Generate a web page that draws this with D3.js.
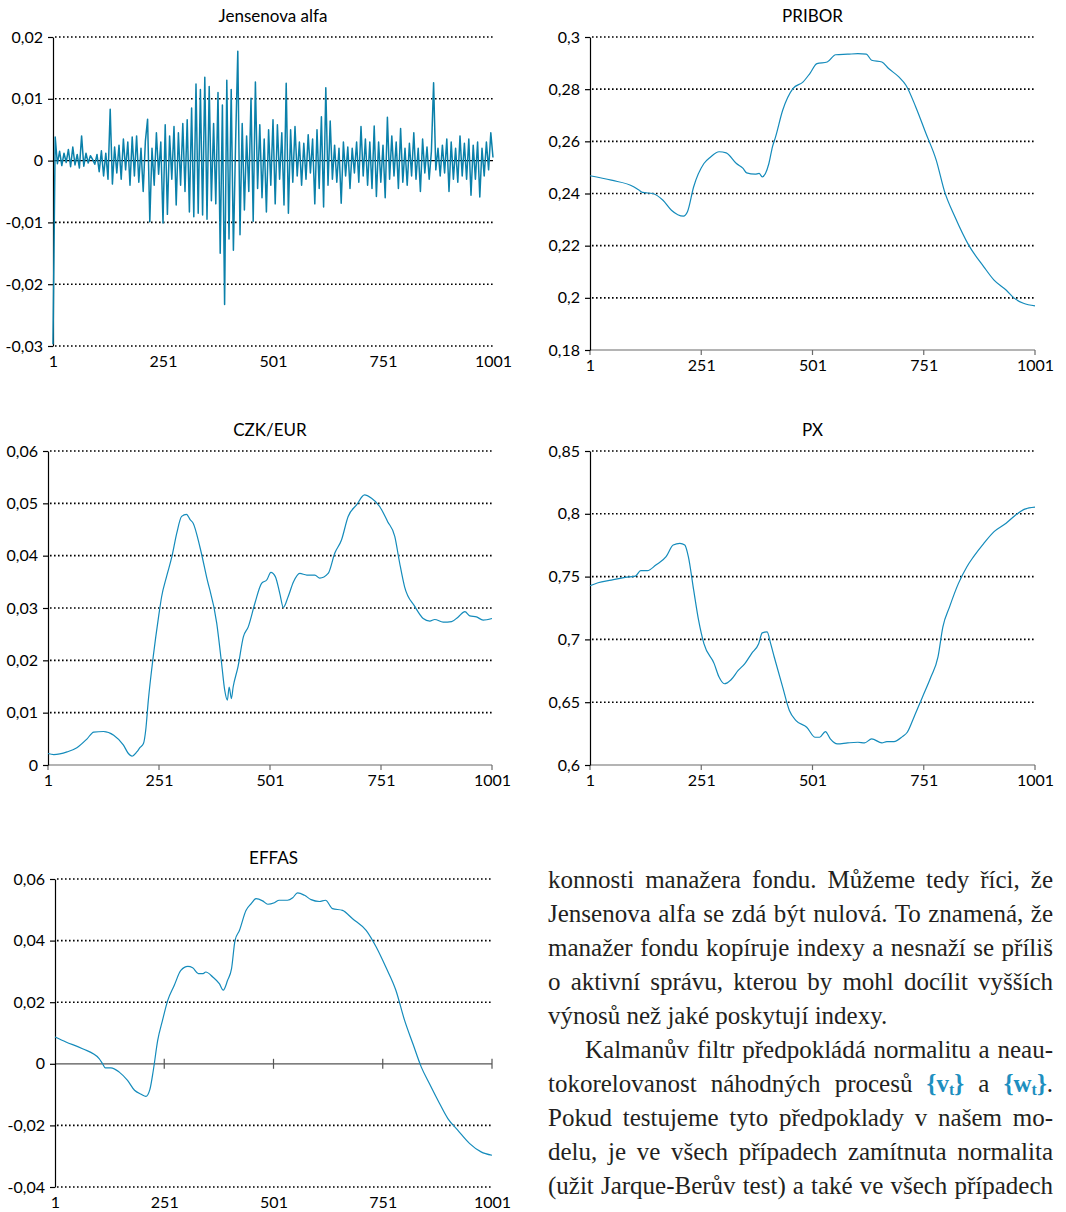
<!DOCTYPE html>
<html>
<head>
<meta charset="utf-8">
<script src="https://cdn.jsdelivr.net/npm/d3@7"></script>
<style>
  body { margin:0; background:#fff; }
  #page { position:relative; width:1066px; height:1212px; overflow:hidden; }
  #page svg { position:absolute; left:0; top:0; }
  #para { position:absolute; left:548px; top:863px; width:505px;
          font-family:"Liberation Serif", serif; font-size:25px; line-height:34px; color:#231f20; }
  #para div { white-space:nowrap; text-align:justify; text-align-last:justify; height:34px; }
  #para div.last { text-align-last:left; }
  #para div.indent { text-indent:37px; }
  #para .m { color:#1e8fc0; font-weight:bold; }
  #para .m sub { font-size:16px; line-height:0; vertical-align:-0.2em; }
</style>
</head>
<body>
<div id="page">
  <svg id="chart" width="1066" height="1212"></svg>
  <div id="para"></div>
</div>
<script>
// --- data ---
const xTicks = [1, 251, 501, 751, 1001];

const jensenTicks = [0.02, 0.01, 0, -0.01, -0.02, -0.03];
const priborTicks = [0.3, 0.28, 0.26, 0.24, 0.22, 0.2, 0.18];
const czkTicks = [0.06, 0.05, 0.04, 0.03, 0.02, 0.01, 0];
const pxTicks = [0.85, 0.8, 0.75, 0.7, 0.65, 0.6];
const effasTicks = [0.06, 0.04, 0.02, 0, -0.02, -0.04];

// Jensenova alfa, read every 5th observation (1, 6, 11, ... 1001)
const jensenStep = 5;
const jensenValues = [
  -0.0297, 0.0038, -0.0005, 0.0015, -0.0008, 0.0012, -0.0003, 0.0018, -0.0010, 0.0022,
  -0.0007, 0.0010, -0.0012, 0.0040, -0.0009, 0.0012, -0.0004, 0.0008, 0.0002, -0.0006,
  0.0010, -0.0018, 0.0016, -0.0025, 0.0012, -0.0030, 0.0083, -0.0038, 0.0022, -0.0020,
  0.0025, -0.0030, 0.0035, -0.0015, 0.0030, -0.0040, 0.0038, -0.0025, 0.0040, -0.0035,
  0.0020, -0.0050, 0.0032, 0.0067, -0.0099, 0.0020, -0.0040, 0.0045, -0.0022, 0.0030,
  -0.0101, 0.0058, -0.0087, 0.0040, -0.0030, 0.0055, -0.0072, 0.0045, -0.0040, 0.0060,
  -0.0050, 0.0066, -0.0083, 0.0085, -0.0091, 0.0124, -0.0085, 0.0115, -0.0088, 0.0135,
  -0.0095, 0.0120, -0.0065, 0.0060, -0.0070, 0.0110, -0.0150, 0.0090, -0.0233, 0.0130,
  -0.0127, 0.0115, -0.0145, 0.0030, 0.0177, -0.0120, 0.0060, -0.0080, 0.0040, -0.0050,
  0.0101, -0.0098, 0.0127, -0.0045, 0.0058, -0.0060, 0.0035, -0.0083, 0.0050, -0.0040,
  0.0066, -0.0070, 0.0058, -0.0030, 0.0045, -0.0072, 0.0125, -0.0085, 0.0050, -0.0035,
  0.0055, -0.0025, 0.0030, -0.0040, 0.0028, -0.0030, 0.0042, -0.0020, 0.0035, -0.0070,
  0.0050, -0.0045, 0.0071, -0.0075, 0.0118, -0.0040, 0.0064, -0.0030, 0.0025, -0.0035,
  0.0020, -0.0069, 0.0030, -0.0025, 0.0022, -0.0045, 0.0020, -0.0020, 0.0030, -0.0035,
  0.0055, -0.0025, 0.0035, -0.0040, 0.0030, -0.0045, 0.0056, -0.0058, 0.0030, -0.0035,
  0.0025, -0.0060, 0.0070, -0.0030, 0.0040, -0.0025, 0.0030, -0.0045, 0.0052, -0.0035,
  0.0020, -0.0040, 0.0028, -0.0025, 0.0045, -0.0030, 0.0020, -0.0050, 0.0035, -0.0020,
  0.0022, -0.0030, 0.0015, 0.0126, -0.0015, 0.0020, -0.0025, 0.0025, -0.0020, 0.0035,
  -0.0050, 0.0030, -0.0030, 0.0020, -0.0035, 0.0040, -0.0025, 0.0028, -0.0030, 0.0035,
  -0.0056, 0.0025, -0.0030, 0.0030, -0.0059, 0.0020, -0.0025, 0.0030, -0.0015, 0.0045,
  0.0005
];

const priborIdx = [1, 49, 99, 111, 119, 142, 165, 184, 211, 220, 234, 257, 272, 291, 307, 330, 345, 353, 372, 381,
  388, 403, 411, 418, 434, 457, 480, 495, 511, 534, 553, 580, 603, 622, 634, 657, 672, 695, 711, 733,
  756, 779, 798, 821, 852, 886, 909, 936, 955, 975, 1001];
const priborValues = [0.2468, 0.2451, 0.2426, 0.2413, 0.2404, 0.2400, 0.2374, 0.2336, 0.2313, 0.2330, 0.2426, 0.2515, 0.2540, 0.2560, 0.2556, 0.2515, 0.2496, 0.2479, 0.2474, 0.2477,
  0.2464, 0.2515, 0.2579, 0.2617, 0.2719, 0.2802, 0.2828, 0.2860, 0.2898, 0.2904, 0.2932, 0.2934, 0.2936, 0.2934, 0.2911, 0.2904, 0.2879, 0.2847, 0.2815, 0.2732,
  0.2630, 0.2528, 0.2406, 0.2311, 0.2202, 0.2119, 0.2068, 0.2030, 0.1998, 0.1979, 0.1969];

const czkIdx = [1, 14, 44, 66, 89, 104, 126, 149, 171, 182, 190, 201, 208, 216, 221, 227, 238, 250, 257, 268,
  280, 291, 302, 313, 321, 328, 343, 358, 381, 392, 399, 405, 409, 414, 418, 429, 441, 452, 467, 482,
  494, 503, 513, 523, 531, 542, 554, 568, 584, 602, 613, 632, 647, 662, 677, 696, 714, 729, 748, 766,
  782, 793, 804, 827, 846, 861, 872, 891, 910, 925, 940, 951, 966, 981, 1001];
const czkValues = [0.0022, 0.0020, 0.0025, 0.0033, 0.0050, 0.0063, 0.0064, 0.0057, 0.0038, 0.0022, 0.0017, 0.0025, 0.0033, 0.0041, 0.0066, 0.0124, 0.0207, 0.0283, 0.0322, 0.0360,
  0.0398, 0.0443, 0.0475, 0.0479, 0.0469, 0.0462, 0.0417, 0.0360, 0.0271, 0.0194, 0.0143, 0.0124, 0.0149, 0.0127, 0.0149, 0.0188, 0.0245, 0.0264, 0.0309, 0.0347,
  0.0354, 0.0368, 0.0360, 0.0328, 0.0301, 0.0322, 0.0350, 0.0366, 0.0363, 0.0363, 0.0357, 0.0366, 0.0405, 0.0430, 0.0475, 0.0497, 0.0516, 0.0510, 0.0494, 0.0465,
  0.0437, 0.0386, 0.0341, 0.0303, 0.0280, 0.0275, 0.0278, 0.0273, 0.0274, 0.0283, 0.0293, 0.0285, 0.0283, 0.0277, 0.0280];

const pxIdx = [1, 19, 49, 80, 103, 115, 130, 149, 172, 188, 203, 214, 222, 234, 245, 257, 280, 291, 303, 318,
  334, 349, 364, 380, 388, 399, 407, 415, 434, 449, 464, 488, 507, 517, 530, 541, 557, 580, 603, 618,
  634, 657, 668, 684, 703, 714, 729, 748, 767, 783, 794, 809, 829, 848, 863, 886, 909, 936, 955, 978, 1001];
const pxValues = [0.7427, 0.7451, 0.7472, 0.7494, 0.7504, 0.7547, 0.7547, 0.7592, 0.7659, 0.7752, 0.7765, 0.7752, 0.7659, 0.7392, 0.7153, 0.6966, 0.6807, 0.6700, 0.6647, 0.6679,
  0.6753, 0.6807, 0.6887, 0.6966, 0.7052, 0.7060, 0.6966, 0.6860, 0.6620, 0.6434, 0.6354, 0.6301, 0.6221, 0.6221, 0.6266, 0.6208, 0.6168, 0.6176, 0.6181, 0.6176,
  0.6208, 0.6176, 0.6186, 0.6186, 0.6226, 0.6261, 0.6381, 0.6540, 0.6700, 0.6860, 0.7100, 0.7259, 0.7446, 0.7579, 0.7659, 0.7765, 0.7858, 0.7925, 0.7983, 0.8037, 0.8053];

const effasIdx = [1, 26, 64, 102, 110, 116, 129, 148, 167, 183, 198, 209, 218, 226, 236, 247, 259, 274, 289, 305,
  316, 329, 340, 346, 362, 377, 386, 396, 405, 413, 423, 438, 450, 461, 476, 488, 503, 514, 533, 545,
  556, 572, 587, 606, 620, 636, 659, 682, 713, 736, 758, 781, 801, 820, 839, 858, 881, 900, 923, 950, 976, 1001];
const effasValues = [0.0087, 0.0071, 0.0049, 0.0017, 0.0000, -0.0013, -0.0013, -0.0027, -0.0054, -0.0086, -0.0099, -0.0106, -0.0084, -0.0021, 0.0076, 0.0141, 0.0206, 0.0255, 0.0303, 0.0316,
  0.0312, 0.0293, 0.0293, 0.0298, 0.0282, 0.0260, 0.0239, 0.0271, 0.0309, 0.0401, 0.0433, 0.0498, 0.0520, 0.0536, 0.0529, 0.0518, 0.0523, 0.0531, 0.0531, 0.0539,
  0.0555, 0.0547, 0.0533, 0.0527, 0.0531, 0.0504, 0.0498, 0.0471, 0.0433, 0.0379, 0.0314, 0.0239, 0.0141, 0.0065, -0.0010, -0.0065, -0.0129, -0.0178, -0.0216, -0.0259, -0.0286, -0.0297];

const paraLines = [
  { text: 'konnosti manažera fondu. Můžeme tedy říci, že' },
  { text: 'Jensenova alfa se zdá být nulová. To znamená, že' },
  { text: 'manažer fondu kopíruje indexy a nesnaží se příliš' },
  { text: 'o aktivní správu, kterou by mohl docílit vyšších' },
  { text: 'výnosů než jaké poskytují indexy.', cls: 'last' },
  { text: 'Kalmanův filtr předpokládá normalitu a neau-', cls: 'indent' },
  { text: 'tokorelovanost náhodných procesů <span class="m">{v<sub>t</sub>}</span> a <span class="m">{w<sub>t</sub>}</span>.' },
  { text: 'Pokud testujeme tyto předpoklady v našem mo-' },
  { text: 'delu, je ve všech případech zamítnuta normalita' },
  { text: '(užit Jarque-Berův test) a také ve všech případech' }
];

const czLocale = d3.formatLocale({ decimal: ",", thousands: " ", grouping: [3], currency: ["", ""], minus: "-" });
const tickFormat = czLocale.format(".2~f");

class LineChart {

  constructor( config, xs, ys ) {
    this.config = config;
    this.data = xs.map((x, i) => [x, ys[i]]);
    this.init();
  }

  init() {
    let self = this;
    let c = self.config;

    self.chart = d3.select('#chart').append('g')
      .attr('font-family', 'Lato, "Open Sans", sans-serif');

    self.xscale = d3.scaleLinear()
      .domain([1, 1001])
      .range([c.left, c.right]);

    self.yscale = d3.scaleLinear()
      .domain(d3.extent(c.ticks))
      .range([c.bottom, c.top]);
  }

  render() {
    let self = this;
    let c = self.config;

    // dotted grid
    self.chart.append('g')
      .selectAll('line')
      .data(c.ticks.filter(t => t !== c.axisAt))
      .join('line')
      .attr('x1', c.left + 2)
      .attr('x2', c.right)
      .attr('y1', d => self.yscale(d))
      .attr('y2', d => self.yscale(d))
      .attr('stroke', '#000')
      .attr('stroke-width', 1.6)
      .attr('stroke-dasharray', '1.6 2.4');

    // horizontal axis line
    const ya = self.yscale(c.axisAt);
    self.chart.append('line')
      .attr('x1', c.left).attr('x2', c.right)
      .attr('y1', ya).attr('y2', ya)
      .attr('stroke', c.axisColor)
      .attr('stroke-width', 1.2);

    if (c.tickStyle !== 'none') {
      const lo = c.tickStyle === 'cross' ? -5 : 0;
      self.chart.append('g')
        .selectAll('line')
        .data(c.tickStyle === 'cross' ? xTicks.slice(1) : xTicks)
        .join('line')
        .attr('x1', d => self.xscale(d)).attr('x2', d => self.xscale(d))
        .attr('y1', ya + lo).attr('y2', ya + 5)
        .attr('stroke', c.axisColor)
        .attr('stroke-width', 1.2);
    }

    // x labels along the bottom
    const xaxis = d3.axisBottom(self.xscale)
      .tickValues(xTicks)
      .tickFormat(d3.format('d'))
      .tickSize(0)
      .tickPadding(10);
    const xg = self.chart.append('g')
      .attr('transform', `translate(0, ${c.bottom})`)
      .call(xaxis);
    xg.select('.domain').remove();
    xg.selectAll('text').attr('font-size', '16px').attr('fill', '#000').attr('font-family', 'Lato, sans-serif');

    // y axis
    const yaxis = d3.axisLeft(self.yscale)
      .tickValues(c.ticks)
      .tickFormat(tickFormat)
      .tickSize(5)
      .tickSizeOuter(0)
      .tickPadding(5);
    const yg = self.chart.append('g')
      .attr('transform', `translate(${c.left}, 0)`)
      .call(yaxis);
    yg.select('.domain').attr('stroke', '#000').attr('stroke-width', 1.2);
    yg.selectAll('.tick line').attr('stroke', '#000').attr('stroke-width', 1.2);
    yg.selectAll('text').attr('font-size', '16px').attr('fill', '#000').attr('font-family', 'Lato, sans-serif');

    // series
    const line = d3.line()
      .x(d => self.xscale(d[0]))
      .y(d => self.yscale(d[1]))
      .curve(c.curve);

    self.chart.append('path')
      .datum(self.data)
      .attr('d', line)
      .attr('fill', 'none')
      .attr('stroke', c.color)
      .attr('stroke-width', c.strokeWidth)
      .attr('stroke-linejoin', 'round');

    // title
    self.chart.append('text')
      .attr('x', (c.left + c.right) / 2)
      .attr('y', c.top - 15)
      .attr('text-anchor', 'middle')
      .attr('font-size', '17px')
      .attr('fill', '#000')
      .text(c.title);
  }
}

const jensenIdx = jensenValues.map((v, i) => 1 + i * jensenStep);

const configs = [
  { title: 'Jensenova alfa', left: 53, right: 493, top: 37, bottom: 346, ticks: jensenTicks, axisAt: 0,
    axisColor: '#000', tickStyle: 'none', curve: d3.curveLinear, color: '#0a80aa', strokeWidth: 1.5, xs: jensenIdx, ys: jensenValues },
  { title: 'PRIBOR', left: 590, right: 1035, top: 37, bottom: 350, ticks: priborTicks, axisAt: 0.18,
    axisColor: '#6b6b6b', tickStyle: 'down', curve: d3.curveMonotoneX, color: '#148bbb', strokeWidth: 1.2, xs: priborIdx, ys: priborValues },
  { title: 'CZK/EUR', left: 48, right: 492, top: 451, bottom: 765, ticks: czkTicks, axisAt: 0,
    axisColor: '#6b6b6b', tickStyle: 'down', curve: d3.curveMonotoneX, color: '#148bbb', strokeWidth: 1.2, xs: czkIdx, ys: czkValues },
  { title: 'PX', left: 590, right: 1035, top: 451, bottom: 765, ticks: pxTicks, axisAt: 0.6,
    axisColor: '#6b6b6b', tickStyle: 'down', curve: d3.curveMonotoneX, color: '#148bbb', strokeWidth: 1.2, xs: pxIdx, ys: pxValues },
  { title: 'EFFAS', left: 55, right: 492, top: 879, bottom: 1187, ticks: effasTicks, axisAt: 0,
    axisColor: '#555', tickStyle: 'cross', curve: d3.curveMonotoneX, color: '#148bbb', strokeWidth: 1.2, xs: effasIdx, ys: effasValues }
];

configs.forEach(c => {
  const chart = new LineChart(c, c.xs, c.ys);
  chart.render();
});

d3.select('#para')
  .selectAll('div')
  .data(paraLines)
  .join('div')
  .attr('class', d => d.cls || null)
  .html(d => d.text);
</script>
</body>
</html>
